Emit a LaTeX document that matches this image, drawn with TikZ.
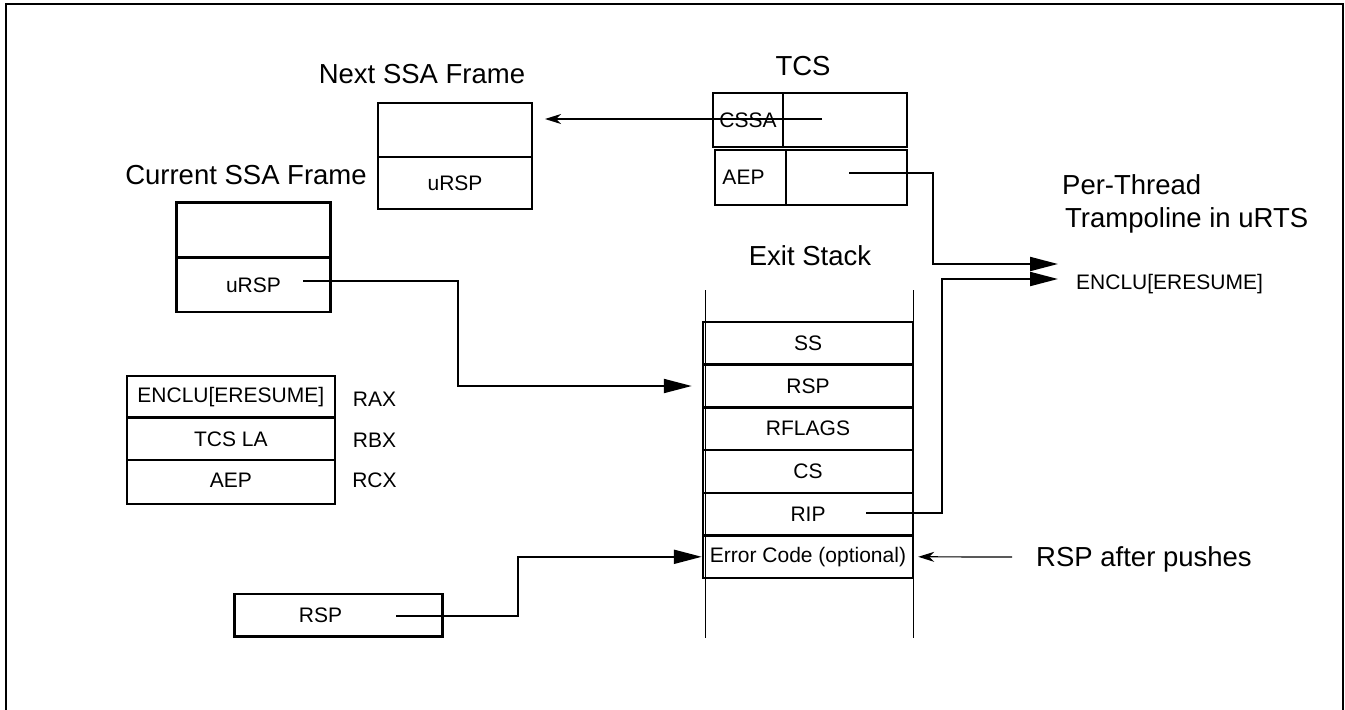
\documentclass[tikz,border=0pt]{standalone}
\usepackage{fontspec}
\setmainfont{Liberation Sans}
\usetikzlibrary{arrows.meta}
\newcommand\smtxt{\fontsize{21}{25}\selectfont}
\newcommand\bigtxt{\fontsize{27.5}{33}\selectfont}
\begin{document}
\begin{tikzpicture}[x=1pt,y=-1pt,
  cell/.style={draw, line width=2.4pt, inner sep=0pt, font=\smtxt},
  lbl/.style={inner sep=0pt, font=\bigtxt},
  slbl/.style={inner sep=0pt, font=\smtxt},
  bigarrow/.style={line width=2pt, -{Triangle[length=28pt,width=14pt]}},
  thinarrow/.style={line width=1.2pt, -{Stealth[length=16pt,width=10pt,inset=5pt]}},
  wall/.style={line width=1pt}]
\useasboundingbox (0,0) rectangle (1345,710);
% outer frame
\draw[line width=2.5pt] (6,715) -- (6,4) -- (1343,4) -- (1343,715);

% Next SSA frame
\node[lbl] (lnext) at (422,74) {Next SSA Frame};
\node[cell, minimum width=154pt, minimum height=54pt] (nA) at (455,130) {};
\node[cell, minimum width=154pt, minimum height=52pt] (nB) at (455,183) {uRSP};

% TCS
\node[lbl] (ltcs) at (803,66) {TCS};
\node[cell, minimum width=70pt, minimum height=54pt] (t1) at (748,120) {CSSA};
\node[cell, minimum width=124pt, minimum height=54pt] (t2) at (845,120) {};
\node[cell, minimum width=71pt, minimum height=55pt] (t3) at (750.5,177.5) {\hspace*{-14pt}AEP};
\node[cell, minimum width=121pt, minimum height=55pt] (t4) at (846.5,177.5) {};

% Current SSA frame
\node[lbl] (lcur) at (246,175) {Current SSA Frame};
\node[cell, minimum width=154pt, minimum height=55pt] (c1) at (253.5,230) {};
\node[cell, minimum width=154pt, minimum height=54pt] (c2) at (253.5,285) {uRSP};

% Trampoline
\node[lbl, anchor=base west, align=left] (ltramp) at (1062,227) {Per-Thread\\\hspace*{3pt}Trampoline in uRTS};
\node[slbl, anchor=west] (lencl) at (1076,284) {ENCLU[ERESUME]};

% Exit stack
\node[lbl] (lexit) at (810,256) {Exit Stack};
\draw[wall] (705,290) -- (705,638);
\draw[wall] (913,290) -- (913,638);
\node[cell, minimum width=210pt, minimum height=42.7pt] (xss) at (808,343.3) {SS};
\node[cell, minimum width=210pt, minimum height=42.7pt] (xrsp) at (808,386) {RSP};
\node[cell, minimum width=210pt, minimum height=42.7pt] (xrfl) at (808,428.7) {RFLAGS};
\node[cell, minimum width=210pt, minimum height=42.7pt] (xcs) at (808,471.4) {CS};
\node[cell, minimum width=210pt, minimum height=42.7pt] (xrip) at (808,514.1) {RIP};
\node[cell, minimum width=210pt, minimum height=42.7pt] (xerr) at (808,556.8) {Error Code (optional)};

% registers
\node[cell, minimum width=208pt, minimum height=42pt] (r1) at (230.8,396.7) {ENCLU[ERESUME]};
\node[cell, minimum width=208pt, minimum height=42.3pt] (r2) at (230.8,438.8) {TCS LA};
\node[cell, minimum width=208pt, minimum height=44pt] (r3) at (230.8,482) {\raisebox{3pt}{AEP}};
\node[slbl] (rax) at (374.5,399) {RAX};
\node[slbl] (rbx) at (374.5,440) {RBX};
\node[slbl] (rcx) at (374.5,480) {RCX};

% RSP box
\node[cell, minimum width=208pt, minimum height=42.7pt] (rspbox) at (338.5,615.3) {\hspace*{-36pt}RSP};

% RSP after pushes
\node[lbl] (lrap) at (1144,559) {RSP after pushes};

% connector start / end points
\coordinate (cssaS) at (822,119);
\coordinate (cssaE) at (545,119);
\coordinate (aepS) at (849,173);
\coordinate (trTop) at (1058,264);
\coordinate (ripS) at (866,513);
\coordinate (trBot) at (1058,279);
\coordinate (curS) at (303,281);
\coordinate (rspS) at (396,616);
\coordinate (rapS) at (1012,557);

% connectors
\draw[thinarrow] (cssaS) -- (cssaE);
\draw[bigarrow] (aepS) -- (933,173) -- (933,264) -- (trTop);
\draw[bigarrow] (ripS) -- (942,513) -- (942,279) -- (trBot);
\draw[bigarrow] (curS) -- (458,281) |- ([xshift=-10pt]xrsp.west);
\draw[bigarrow] (rspS) -- (518,616) |- (xerr.west);
\draw[thinarrow] (rapS) -- ([xshift=4pt]xerr.east);
\end{tikzpicture}
\end{document}
